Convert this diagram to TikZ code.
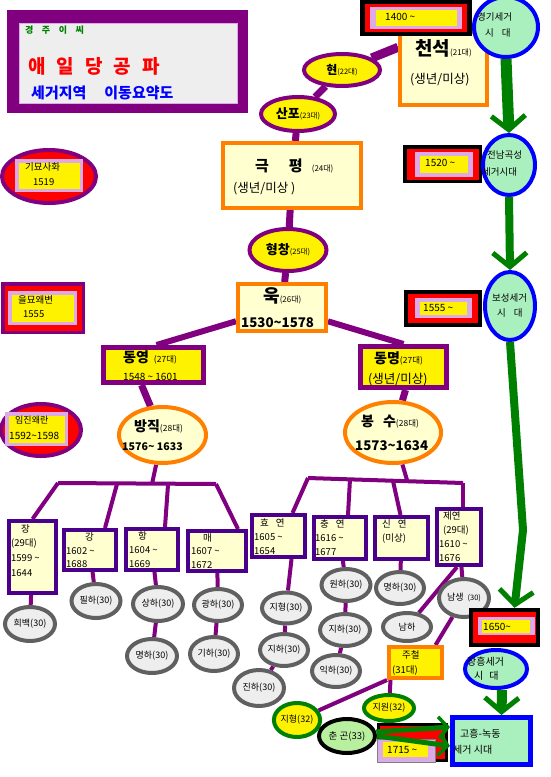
\documentclass[tikz,border=0pt]{standalone}
\usepackage{fontspec}
\setmainfont{Noto Sans CJK KR}
\usetikzlibrary{shapes.geometric,arrows.meta}
\definecolor{pur}{RGB}{128,0,128}
\definecolor{ind}{RGB}{75,0,140}
\definecolor{lyel}{RGB}{255,255,208}
\definecolor{org}{RGB}{255,128,0}
\definecolor{lav}{RGB}{220,170,230}
\definecolor{lgrn}{RGB}{170,240,190}
\definecolor{cgrn}{RGB}{185,240,160}
\definecolor{gry}{RGB}{96,96,96}
\definecolor{lgry}{RGB}{238,238,238}
\definecolor{grn}{RGB}{0,128,0}
\newcommand{\fz}[1]{\fontsize{#1}{#1}\selectfont}
\newcommand{\tl}{\textasciitilde}
\pgfdeclarelayer{bg}
\pgfsetlayers{bg,main}
\begin{document}
\begin{tikzpicture}[x=1pt,y=-1pt,
  txt/.style={inner sep=0pt, anchor=west},
  fr/.style={rectangle, inner sep=0pt, draw=none},
  obox/.style={rectangle, inner sep=0pt, draw=org, line width=4pt, fill=lyel},
  pbox/.style={rectangle, inner sep=0pt, draw=pur, line width=5pt, fill=yellow},
  ibox/.style={rectangle, inner sep=0pt, draw=ind, line width=4pt, fill=lyel},
  gell/.style={ellipse, inner sep=0pt, draw=gry, line width=4pt, fill=lgry, font=\fz{9}},
  yell/.style={ellipse, inner sep=0pt, draw=pur, line width=4pt, fill=yellow},
  oell/.style={ellipse, inner sep=0pt, draw=org, line width=4pt, fill=lyel},
  bell/.style={ellipse, inner sep=0pt, draw=blue, line width=4pt, fill=lgrn},
  rell/.style={ellipse, inner sep=0pt, draw=pur, line width=4pt, fill=red},
  lavy/.style={rectangle, inner sep=0pt, draw=lav, line width=3.5pt, fill=yellow},
  cw/.style={draw=pur, line width=#1},
  garr/.style={draw=grn, line width=#1},
  bigtip/.style={-{Straight Barb[length=14pt,width=34pt,line width=5pt]}},
  smalltip/.style={-{Straight Barb[length=9pt,width=22pt,line width=3.5pt]}},
  dt/.style={txt, font=\fz{10}},
  bt/.style={txt, font=\fz{9.5}}
]
\useasboundingbox (0,0) rectangle (550,777);

% title
\node[fr, fill=pur, minimum width=241pt, minimum height=103pt] (ttlo) at (127.5,61.5) {};
\node[fr, fill=lgry, draw=lav, line width=1pt, minimum width=218pt, minimum height=80pt] (ttli) at (128.5,63) {};
\node[txt, text=grn, font=\bfseries\fz{9}] (tg) at (25,30) {경\hspace{8.5pt}주\hspace{8.5pt}이\hspace{8.5pt}씨};
\node[txt, text=red, font=\bfseries\fz{19}] (tae) at (28,66) {애\hspace{11pt}일\hspace{11pt}당\hspace{11pt}공\hspace{11pt}파};
\node[txt, text=blue, font=\bfseries\fz{15}] (tsg) at (31,93) {세거지역\hspace{18pt}이동요약도};

% 천석
\node[obox, minimum width=87pt, minimum height=73pt] (cheon) at (443.5,68.5) {};
\node[txt] (tcs1) at (415,48) {{\bfseries\fz{19}천석}{\fz{8}(21대)}};
\node[txt, font=\fz{12.5}] (tcs2) at (410,80) {(생년/미상)};

% 1400 box
\node[fr, fill=black, minimum width=112pt, minimum height=36pt] (d1400k) at (416,18) {};
\node[fr, fill=red, minimum width=102pt, minimum height=28pt] (d1400r) at (416,18) {};
\node[fr, fill=lav, minimum width=92pt, minimum height=22pt] (d1400l) at (416,18) {};
\node[fr, fill=yellow, minimum width=81pt, minimum height=16pt] (d1400y) at (416,18) {};
\node[dt] (t1400) at (385,17) {1400 \tl};

% 경기
\node[bell, minimum width=64pt, minimum height=60pt] (gyeonggi) at (506,27) {};
\node[txt, font=\fz{9.5}] (tgg1) at (477,17) {경기세거};
\node[txt, font=\fz{9.5}] (tgg2) at (485,33) {시\hspace{8pt}대};

% spine
\node[yell, minimum width=76pt, minimum height=32pt] (hyeon) at (342,70) {{\bfseries\fz{12}현}{\fz{7.5}(22대)}};
\node[yell, minimum width=74pt, minimum height=34pt] (sanpo) at (298,114) {{\bfseries\fz{13}산포}{\fz{7.5}(23대)}};
\node[obox, minimum width=138pt, minimum height=65pt] (geuk) at (292,175.5) {};
\node[txt] (tgk1) at (255,166) {{\bfseries\fz{15}극\hspace{20pt}평}\hspace{9pt}{\fz{8}(24대)}};
\node[txt, font=\fz{12.5}] (tgk2) at (233,189) {(생년/미상 )};
\node[yell, minimum width=77pt, minimum height=42pt] (hyeong) at (288,250) {{\bfseries\fz{13}형창}{\fz{7.5}(25대)}};
\node[obox, minimum width=88pt, minimum height=47pt] (uk) at (282,307.5) {};
\node[txt] (tuk1) at (263,296) {{\bfseries\fz{18}욱}{\fz{8}(26대)}};
\node[txt, font=\bfseries\fz{13.3}] (tuk2) at (241,323) {1530\tl1578};

% left events
\node[rell, minimum width=94pt, minimum height=53pt] (gimyo) at (49,176.5) {};
\node[lavy, minimum width=64.5pt, minimum height=29.5pt] (gimyol) at (49,175.5) {};
\node[txt, font=\fz{9.5}] (tgm1) at (25,167) {기묘사화};
\node[txt, font=\fz{9.5}] (tgm2) at (33,182) {1519};
\node[fr, fill=red, draw=pur, line width=3.5pt, minimum width=80.5pt, minimum height=48.5pt] (eulmyo) at (43,308) {};
\node[lavy, minimum width=65.5pt, minimum height=30.5pt] (eulmyol) at (42.5,308) {};
\node[txt, font=\fz{9.5}] (tem1) at (18,300) {을묘왜변};
\node[txt, font=\fz{9.5}] (tem2) at (23,314) {1555};
\node[rell, minimum width=80pt, minimum height=52pt] (imjin) at (41,430) {};
\node[lavy, minimum width=59.5pt, minimum height=30.5pt] (imjinl) at (36.5,429) {};
\node[txt, font=\fz{9}] (tij1) at (15,420) {임진왜란};
\node[txt, font=\fz{10}] (tij2) at (9,436) {1592\tl1598};

% right side dates and places
\node[fr, fill=black, minimum width=79pt, minimum height=38pt] (d1520k) at (442.5,164) {};
\node[fr, fill=red, minimum width=72pt, minimum height=31pt] (d1520r) at (442.5,164) {};
\node[fr, fill=lav, minimum width=58pt, minimum height=25pt] (d1520l) at (444,164.5) {};
\node[fr, fill=yellow, minimum width=48pt, minimum height=17pt] (d1520y) at (444,164.5) {};
\node[dt] (t1520) at (425,163) {1520 \tl};
\node[bell, minimum width=52pt, minimum height=60pt] (jeonnam) at (509,165) {};
\node[txt, font=\fz{9.5}] (tjn1) at (487,155) {전남곡성};
\node[txt, font=\fz{9.5}] (tjn2) at (482,172) {세거시대};

\node[fr, fill=black, minimum width=78pt, minimum height=37pt] (d1555k) at (443,308.5) {};
\node[fr, fill=red, minimum width=70pt, minimum height=29pt] (d1555r) at (443,308.5) {};
\node[fr, fill=lav, minimum width=57pt, minimum height=20pt] (d1555l) at (443.5,308) {};
\node[fr, fill=yellow, minimum width=47pt, minimum height=13pt] (d1555y) at (443.5,308.5) {};
\node[dt] (t1555) at (423,308) {1555 \tl};
\node[bell, minimum width=50pt, minimum height=68pt] (boseong) at (510,306) {};
\node[txt, font=\fz{9.5}] (tbs1) at (492,298) {보성세거};
\node[txt, font=\fz{9.5}] (tbs2) at (497,313) {시\hspace{8pt}대};

% generation 27/28
\node[pbox, minimum width=100pt, minimum height=35pt] (dongyeong) at (153.5,365) {};
\node[txt] (tdy1) at (123,357) {{\bfseries\fz{14}동영}\hspace{5pt}{\fz{8.5}(27대)}};
\node[dt] (tdy2) at (123,377) {1548 \tl{} 1601};
\node[pbox, minimum width=86pt, minimum height=41pt] (dongmyeong) at (403.5,367) {};
\node[txt] (tdm1) at (374,358) {{\bfseries\fz{14}동명}{\fz{8.5}(27대)}};
\node[txt, font=\fz{12.5}] (tdm2) at (368,380) {(생년/미상)};
\node[oell, minimum width=87pt, minimum height=56pt] (bangjik) at (162.5,435) {};
\node[txt] (tbj1) at (134,426) {{\bfseries\fz{14}방직}{\fz{8.5}(28대)}};
\node[txt, font=\bfseries\fz{10.6}] (tbj2) at (122,447) {1576\tl{} 1633};
\node[oell, minimum width=96pt, minimum height=61pt] (bongsu) at (393,432.5) {};
\node[txt] (tbo1) at (361,422) {{\bfseries\fz{14}봉\hspace{9pt}수}{\fz{8.5}(28대)}};
\node[txt, font=\bfseries\fz{13.3}] (tbo2) at (355,446) {1573\tl1634};

% generation 29 boxes
\node[ibox, minimum width=47pt, minimum height=72pt] (jang) at (32.5,557) {};
\node[bt] (tj1) at (21,528.5) {장};
\node[bt] (tj2) at (11,543) {(29대)};
\node[bt] (tj3) at (11,558) {1599 \tl};
\node[bt] (tj4) at (11,573) {1644};
\node[ibox, minimum width=52pt, minimum height=40pt] (gang) at (90,550) {};
\node[bt] (tga1) at (85,537) {강};
\node[bt] (tga2) at (66,551) {1602 \tl};
\node[bt] (tga3) at (66,564) {1688};
\node[ibox, minimum width=52pt, minimum height=41pt] (hang) at (152,549.5) {};
\node[bt] (tha1) at (138,536) {항};
\node[bt] (tha2) at (129,550) {1604 \tl};
\node[bt] (tha3) at (129,564) {1669};
\node[ibox, minimum width=58pt, minimum height=40pt] (mae) at (217,551) {};
\node[bt] (tma1) at (203,538) {매};
\node[bt] (tma2) at (191,551) {1607 \tl};
\node[bt] (tma3) at (191,565) {1672};
\node[ibox, minimum width=53pt, minimum height=42pt] (hyo) at (278.5,536) {};
\node[bt] (thy1) at (260,523) {효\hspace{7pt}연};
\node[bt] (thy2) at (254,537) {1605 \tl};
\node[bt] (thy3) at (254,551) {1654};
\node[ibox, minimum width=52pt, minimum height=42pt] (chung) at (340,538) {};
\node[bt] (tch1) at (320,524) {충\hspace{7pt}연};
\node[bt] (tch2) at (315,538) {1616 \tl};
\node[bt] (tch3) at (315,552) {1677};
\node[ibox, minimum width=53pt, minimum height=42pt] (sin) at (401.5,538) {};
\node[bt] (tsi1) at (382,524) {신\hspace{7pt}연};
\node[bt] (tsi2) at (382,538) {(미상)};
\node[ibox, minimum width=44pt, minimum height=56pt] (je) at (459,537) {};
\node[bt] (tje1) at (443,516) {제연};
\node[bt] (tje2) at (443,530) {(29대)};
\node[bt] (tje3) at (439,544) {1610 \tl};
\node[bt] (tje4) at (439,558) {1676};

% generation 30 ellipses
\node[gell, minimum width=50pt, minimum height=34pt] (hb) at (30,624) {희백(30)};
\node[gell, minimum width=49pt, minimum height=34pt] (ph) at (96,601) {필하(30)};
\node[gell, minimum width=50pt, minimum height=34pt] (sh) at (158,604) {상하(30)};
\node[gell, minimum width=48pt, minimum height=32pt] (gh) at (218,605) {광하(30)};
\node[gell, minimum width=50pt, minimum height=34pt] (mhl) at (152,656) {명하(30)};
\node[gell, minimum width=48pt, minimum height=34pt] (gih) at (214,654) {기하(30)};
\node[gell, minimum width=50pt, minimum height=36pt] (jin) at (259,688) {진하(30)};
\node[gell, minimum width=48pt, minimum height=31pt] (jh30) at (286,608) {지형(30)};
\node[gell, minimum width=48pt, minimum height=32pt] (jhl) at (284,650) {지하(30)};
\node[gell, minimum width=49pt, minimum height=32pt] (wh) at (346,585) {원하(30)};
\node[gell, minimum width=50pt, minimum height=32pt] (jhm) at (345,630) {지하(30)};
\node[gell, minimum width=48pt, minimum height=32pt] (ik) at (336,671) {익하(30)};
\node[gell, minimum width=48pt, minimum height=32pt] (mhr) at (400,588) {명하(30)};
\node[gell, minimum width=50pt, minimum height=38pt] (ns) at (464,598) {남생\hspace{4pt}{\fz{7.5}(30)}};
\node[gell, minimum width=48pt, minimum height=28pt] (nh) at (407,627) {남하};

% 31-33
\node[rectangle, inner sep=0pt, draw=org, line width=4pt, fill=yellow, minimum width=53pt, minimum height=31pt] (jucheol) at (415.5,662.5) {};
\node[bt] (tju1) at (402,655) {주철};
\node[bt] (tju2) at (392,670) {(31대)};
\node[ellipse, inner sep=0pt, draw=grn, line width=4pt, fill=yellow, minimum width=50pt, minimum height=26pt, font=\fz{9}] (jiwon) at (389,708) {지원(32)};
\node[ellipse, inner sep=0pt, draw=grn, line width=4pt, fill=yellow, minimum width=40pt, minimum height=34pt, font=\fz{9}] (jh32) at (297,720) {지형(32)};
\node[ellipse, inner sep=0pt, draw=black, line width=4pt, fill=cgrn, minimum width=56pt, minimum height=34pt, font=\fz{9.5}] (chun) at (347,736) {춘 곤(33)};

% 1650 and bottom right
\node[fr, fill=black, minimum width=71pt, minimum height=39pt] (d1650k) at (504.5,627.5) {};
\node[fr, fill=red, minimum width=63pt, minimum height=31pt] (d1650r) at (504.5,627.5) {};
\node[fr, fill=lav, minimum width=57pt, minimum height=18pt] (d1650l) at (506,626) {};
\node[fr, fill=yellow, minimum width=48pt, minimum height=13pt] (d1650y) at (506,626.5) {};
\node[dt] (t1650) at (483,627) {1650\tl};
\node[bell, minimum width=62pt, minimum height=38pt] (jangheung) at (496,669) {};
\node[txt, font=\fz{10}] (tjh1) at (467,662) {장흥세거};
\node[txt, font=\fz{10}] (tjh2) at (474,676) {시\hspace{6pt}대};
\node[rectangle, inner sep=0pt, draw=blue, line width=5pt, fill=lgrn, minimum width=78pt, minimum height=47pt] (goheung) at (491.5,741) {};
\node[txt, font=\fz{10}] (tgo1) at (460,734) {고흥-녹동};
\node[txt, font=\fz{10}] (tgo2) at (453,750) {세거 시대};
\node[fr, fill=red, draw=black, line width=3pt, minimum width=68pt, minimum height=36pt] (d1715k) at (412.5,742.5) {};
\node[fr, fill=lav, draw=gray, line width=0.8pt, minimum width=58pt, minimum height=23pt] (d1715l) at (406,750.5) {};
\node[fr, fill=yellow, minimum width=45pt, minimum height=15pt] (d1715y) at (405.5,749.5) {};
\node[dt] (t1715) at (387,750) {1715 \tl};

% coordinates for bars
\coordinate (lbl) at (58,483);
\coordinate (lbm) at (152,484);
\coordinate (lbr) at (216,484);
\coordinate (lb2) at (117,484);
\coordinate (lb3) at (168,485);
\coordinate (rbl) at (308,478);
\coordinate (rbm) at (407,480);
\coordinate (rbr) at (463,483);
\coordinate (rb2) at (350,479);
\coordinate (rb3) at (393,481);
\coordinate (gbend) at (523,530);

\begin{pgfonlayer}{bg}
\fill[white] (0,0) rectangle (550,777);
\draw[cw=9pt] (cheon.155) -- (hyeon);
\draw[cw=7pt] (hyeon) -- (sanpo);
\draw[cw=7pt] (sanpo) -- (geuk);
\draw[cw=7pt] (geuk) -- (hyeong);
\draw[cw=7pt] (hyeong) -- (uk);
\draw[cw=6pt] (uk) -- ([xshift=3pt]dongyeong.north);
\draw[cw=6pt] (uk) -- (dongmyeong.north);
\draw[cw=7pt] ([xshift=-12pt]dongyeong.south) -- (bangjik);
\draw[cw=7pt] ([xshift=2pt]dongmyeong.south) -- (bongsu);
\draw[cw=4pt] (bangjik) -- (lbm);
\draw[cw=4pt] (lbl) -- (lbr);
\draw[cw=4pt] (lbl) -- (jang.north);
\draw[cw=4pt] (lb2) -- ([xshift=15pt]gang.north);
\draw[cw=4pt] (lb3) -- ([xshift=13pt]hang.north);
\draw[cw=4pt] (lbr) -- ([xshift=21pt]mae.north);
\draw[cw=4pt] (bongsu) -- (rbm);
\draw[cw=4pt] (rbl) -- (rbr);
\draw[cw=4pt] (rbl) -- ([xshift=14pt]hyo.north);
\draw[cw=4pt] (rb2) -- ([xshift=8pt]chung.north);
\draw[cw=4pt] (rb3) -- ([xshift=-1pt]sin.north);
\draw[cw=4pt] (rbr) -- ([xshift=4pt]je.north);
\draw[cw=4pt] (jang) -- (hb);
\draw[cw=4pt] (gang) -- (ph);
\draw[cw=4pt] (hang) -- (sh);
\draw[cw=4pt] (mae) -- (gh);
\draw[cw=4pt] (sh) -- (mhl);
\draw[cw=4pt] (gh) -- (gih);
\draw[cw=4pt] ([xshift=13pt]hyo.south) -- (jh30);
\draw[cw=4pt] (jh30) -- (jhl);
\draw[cw=4pt] (jhl) -- (jin);
\draw[cw=4pt] (chung) -- (wh);
\draw[cw=4pt] (wh) -- (jhm);
\draw[cw=4pt] (jhm) -- (ik);
\draw[cw=4pt] (sin) -- (mhr);
\draw[cw=4pt] (je) -- (ns);
\draw[cw=4pt] ([xshift=-2pt]je.south) -- (nh);
\draw[cw=4pt] (ns) -- ([xshift=20pt]jucheol.north);
\draw[cw=4pt] (jucheol.south west) -- (jh32);
\draw[cw=4pt] ([xshift=-25pt]jucheol.south) -- (jiwon);
\draw[cw=4pt] (jh32) -- (chun);
\end{pgfonlayer}

% green arrows
\draw[garr=11pt, bigtip] (gyeonggi.south) -- (jeonnam.north);
\draw[garr=8pt, bigtip] (jeonnam.south) -- (boseong.north);
\draw[garr=8pt, bigtip] (boseong.south) -- (gbend) -- ([xshift=10pt]d1650k.north);
\draw[garr=10pt, bigtip] ([xshift=6pt]jangheung.south) -- ([xshift=10pt]goheung.north);
\draw[garr=5pt, smalltip] (chun.8) -- ([yshift=14pt]goheung.west);
\draw[garr=5pt, smalltip] (chun.east) -- ([yshift=-5pt]goheung.west);
\end{tikzpicture}
\end{document}
